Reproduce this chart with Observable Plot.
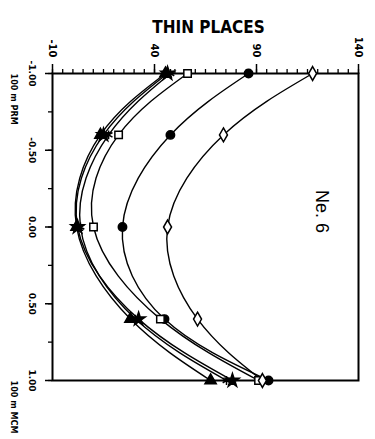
<!DOCTYPE html>
<html><head><meta charset="utf-8">
<script src="https://cdn.jsdelivr.net/npm/d3@7"></script>
<script src="https://cdn.jsdelivr.net/npm/@observablehq/plot@0.6"></script>
<style>html,body{margin:0;padding:0;background:#fff} svg{display:block}</style>
</head><body><div id="chart"></div>
<script>
// positions along the section (-1 = 100 m PRM, 1 = 100 m MCM)
const positions = [-1, -0.6, 0, 0.6, 1];
// series values
const filledStar   = [46.4, 15.0, 2.3, 32.2, 78.2];
const triangle     = [45.4, 13.5, 1.8, 28.2, 67.5];
const asterisk     = [47.8, 17.5, 3.7, 30.7, 75.3];
const openSquare   = [56.2, 22.4, 10.1, 42.9, 91.0];
const filledCircle = [86.1, 47.8, 24.3, 44.9, 95.9];
const openDiamond  = [117.5, 73.8, 46.4, 61.1, 92.9];

const seriesNames = ["star", "triangle", "asterisk", "square", "circle", "diamond"];
const seriesValues = [filledStar, triangle, asterisk, openSquare, filledCircle, openDiamond];
const seriesSymbols = ["star", "triangle", "asterisk", "square", "circle", "diamond"];
const openSeries = ["square", "diamond", "asterisk"];

const xMajorTicks = [-10, 40, 90, 140];
const xMinorTicks = d3.range(-10, 141, 5);
const yMajorTicks = [-1, -0.5, 0, 0.5, 1];
const yMinorTicks = d3.range(-1, 1.001, 0.25);
const yTickLabels = ["-1.00", "-0.50", "0.00", "0.50", "1.00"];
const endLabels = [{pos: -1, text: "100 m PRM"}, {pos: 1, text: "100 m MCM"}];
const titleText = "THIN PLACES";
const noteText = "Ne. 6";

const rows = seriesNames.flatMap((s, i) => positions.map((p, j) => ({series: s, pos: p, value: seriesValues[i][j]})));

const chart = Plot.plot({
  width: 375, height: 439,
  marginLeft: 52, marginRight: 17, marginTop: 73, marginBottom: 59,
  style: {fontFamily: "'DejaVu Sans', sans-serif", fontWeight: "bold", background: "#fff", color: "#000"},
  x: {domain: [-10, 140]},
  y: {domain: [-1, 1], reverse: true},
  symbol: {domain: seriesNames, range: seriesSymbols},
  marks: [
    Plot.frame({stroke: "#000", strokeWidth: 2}),
    Plot.axisX({anchor: "top", ticks: xMinorTicks, tickSize: 5, tickFormat: () => "", label: null, strokeWidth: 1.3}),
    Plot.axisX({anchor: "top", ticks: xMajorTicks, tickSize: 10, tickRotate: 90, tickPadding: 6, fontSize: 10, label: null, strokeWidth: 1.5, tickFormat: d => String(d)}),
    Plot.axisY({anchor: "left", ticks: yMinorTicks, tickSize: 4, tickFormat: () => "", label: null, strokeWidth: 1.3}),
    Plot.axisY({anchor: "left", ticks: yMajorTicks, tickSize: 7, tickRotate: 90, tickPadding: 10, fontSize: 9, label: null, strokeWidth: 1.5,
      tickFormat: d => yTickLabels[yMajorTicks.indexOf(d)]}),
    Plot.line(rows, {x: "value", y: "pos", z: "series", curve: "natural", stroke: "#000", strokeWidth: 1.4}),
    Plot.dot(rows.filter(d => !openSeries.includes(d.series)), {x: "value", y: "pos", symbol: "series", fill: "#000", stroke: "#000", r: 4.2}),
    Plot.dot(rows.filter(d => openSeries.includes(d.series)), {x: "value", y: "pos", symbol: "series", fill: "#fff", stroke: "#000", strokeWidth: 1.5, r: 4.2}),
    Plot.text(endLabels, {y: "pos", text: "text", frameAnchor: "left", dx: -39, rotate: 90, fontSize: 9, fontWeight: "bold", fontFamily: "'Liberation Sans Narrow', 'DejaVu Sans Condensed', sans-serif"}),
    Plot.text([titleText], {frameAnchor: "top", dx: 3, dy: -53, fontSize: 17, fontWeight: "bold", fontFamily: "'Liberation Sans Narrow', 'DejaVu Sans Condensed', sans-serif"}),
    Plot.text([noteText], {y: [0.04], frameAnchor: "right", dx: -37, rotate: 90, fontSize: 18, fontWeight: "normal", fontFamily: "'Liberation Sans', Arial, sans-serif"})
  ]
});
document.getElementById("chart").append(chart);
</script>
</body></html>
